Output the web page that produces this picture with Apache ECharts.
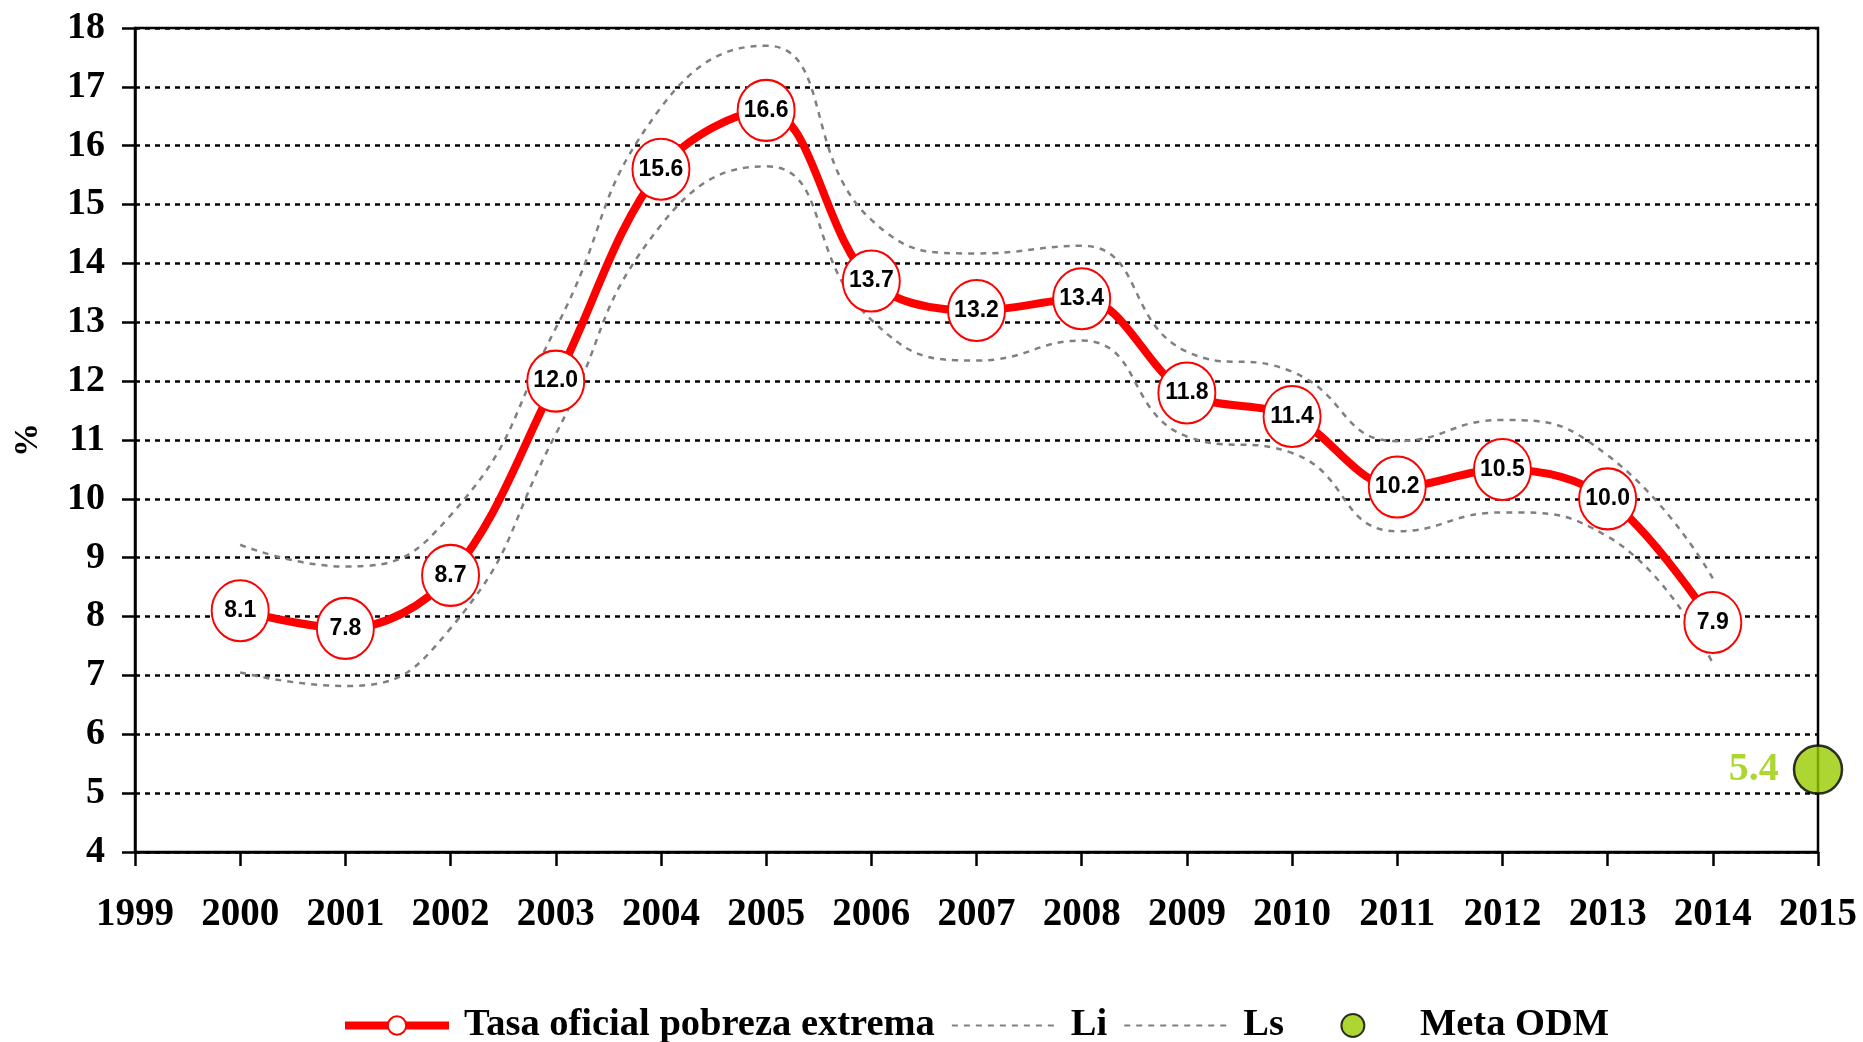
<!DOCTYPE html>
<html>
<head>
<meta charset="utf-8">
<script src="https://cdn.jsdelivr.net/npm/echarts@6.0.0/dist/echarts.min.js"></script>
<style>
  html, body { margin: 0; padding: 0; background: #fff; }
  #chart { width: 1863px; height: 1042px; }
</style>
</head>
<body>
<div id="chart"></div>
<script>
// years and values
const years = [2000, 2001, 2002, 2003, 2004, 2005, 2006, 2007, 2008, 2009, 2010, 2011, 2012, 2013, 2014];
const tasa = [8.1, 7.8, 8.7, 12.0, 15.6, 16.6, 13.7, 13.2, 13.4, 11.8, 11.4, 10.2, 10.5, 10.0, 7.9];
const li = [7.05, 6.82, 7.8, 11.1, 14.65, 15.65, 13.04, 12.35, 12.69, 11.06, 10.78, 9.45, 9.77, 9.36, 7.2];
const ls = [9.22, 8.85, 9.72, 12.9, 16.65, 17.7, 14.74, 14.17, 14.3, 12.5, 12.16, 10.98, 11.34, 10.74, 8.65];
const metaYear = 2015;
const metaValue = 5.4;

const serif = 'Liberation Serif, Times New Roman, serif';
const pairs = (vals) => vals.map((v, i) => [years[i], v]);

// legend circle centred in the icon box (box 104 x 23)
const metaIcon = 'path://M0,0L0,0M104,23L104,23M40.5,11.5a11.5,11.5 0 1,0 23,0a11.5,11.5 0 1,0 -23,0Z';

const chart = echarts.init(document.getElementById('chart'));

const option = {
  animation: false,
  backgroundColor: '#fff',
  grid: {
    left: 135,
    right: 45,
    top: 28,
    bottom: 190,
    show: true,
    borderColor: '#000',
    borderWidth: 2.5
  },
  legend: {
    left: 341,
    top: 1006,
    padding: 0,
    itemWidth: 104,
    itemHeight: 23,
    itemGap: 16,
    selectedMode: false,
    textStyle: {
      fontFamily: serif,
      fontWeight: 'bold',
      fontSize: 38.5,
      color: '#000',
      padding: [0, 0, 0, 10]
    },
    data: [
      { name: 'Tasa oficial pobreza extrema', lineStyle: { width: 8 } },
      { name: 'Li', itemStyle: { opacity: 0 } },
      { name: 'Ls', itemStyle: { opacity: 0 } },
      { name: 'Meta ODM', icon: metaIcon }
    ]
  },
  xAxis: {
    type: 'value',
    min: 1999,
    max: 2015,
    interval: 1,
    axisLine: { lineStyle: { color: '#000', width: 2.5 } },
    axisTick: { show: true, length: 14, lineStyle: { color: '#000', width: 2.5 } },
    axisLabel: {
      margin: 43,
      fontFamily: serif,
      fontWeight: 'bold',
      fontSize: 39,
      color: '#000',
      formatter: (v) => String(v)
    },
    splitLine: { show: false }
  },
  yAxis: {
    type: 'value',
    min: 4,
    max: 18,
    interval: 1,
    name: '%',
    nameLocation: 'middle',
    nameRotate: 90,
    nameGap: 90,
    nameTextStyle: {
      fontFamily: serif,
      fontWeight: 'bold',
      fontSize: 34,
      color: '#000'
    },
    axisLine: { show: true, lineStyle: { color: '#000', width: 2.5 } },
    axisTick: { show: true, length: 13, lineStyle: { color: '#000', width: 2.5 } },
    axisLabel: {
      margin: 30,
      fontFamily: serif,
      fontWeight: 'bold',
      fontSize: 38,
      color: '#000'
    },
    splitLine: {
      show: true,
      lineStyle: { color: '#000', width: 2.5, type: [5, 5] }
    }
  },
  series: [
    {
      name: 'Li',
      type: 'line',
      data: pairs(li),
      smooth: 0.5,
      symbol: 'none',
      lineStyle: { color: '#808080', width: 2.5, type: [6, 6] },
      itemStyle: { color: '#808080' },
      z: 2
    },
    {
      name: 'Ls',
      type: 'line',
      data: pairs(ls),
      smooth: 0.5,
      symbol: 'none',
      lineStyle: { color: '#808080', width: 2.5, type: [6, 6] },
      itemStyle: { color: '#808080' },
      z: 2
    },
    {
      name: 'Tasa oficial pobreza extrema',
      type: 'line',
      data: pairs(tasa),
      smooth: 0.35,
      symbol: 'circle',
      symbolSize: [57, 61],
      lineStyle: { color: '#ff0000', width: 8 },
      itemStyle: { color: '#fff', borderColor: '#ff0000', borderWidth: 2 },
      label: {
        show: true,
        position: 'inside',
        fontFamily: 'Liberation Sans, Arial, sans-serif',
        fontWeight: 'bold',
        fontSize: 23,
        color: '#000',
        formatter: (p) => p.value[1].toFixed(1)
      },
      z: 5
    },
    {
      name: 'Meta ODM',
      type: 'scatter',
      data: [[metaYear, metaValue]],
      symbolSize: 48,
      clip: false,
      itemStyle: { color: '#99cc00', borderColor: '#000', borderWidth: 2.5 },
      label: {
        show: true,
        position: 'left',
        distance: 14,
        fontFamily: serif,
        fontWeight: 'bold',
        fontSize: 40,
        color: '#99cc00',
        formatter: (p) => p.value[1].toFixed(1)
      },
      z: 6
    }
  ]
};

chart.setOption(option);
</script>
</body>
</html>
